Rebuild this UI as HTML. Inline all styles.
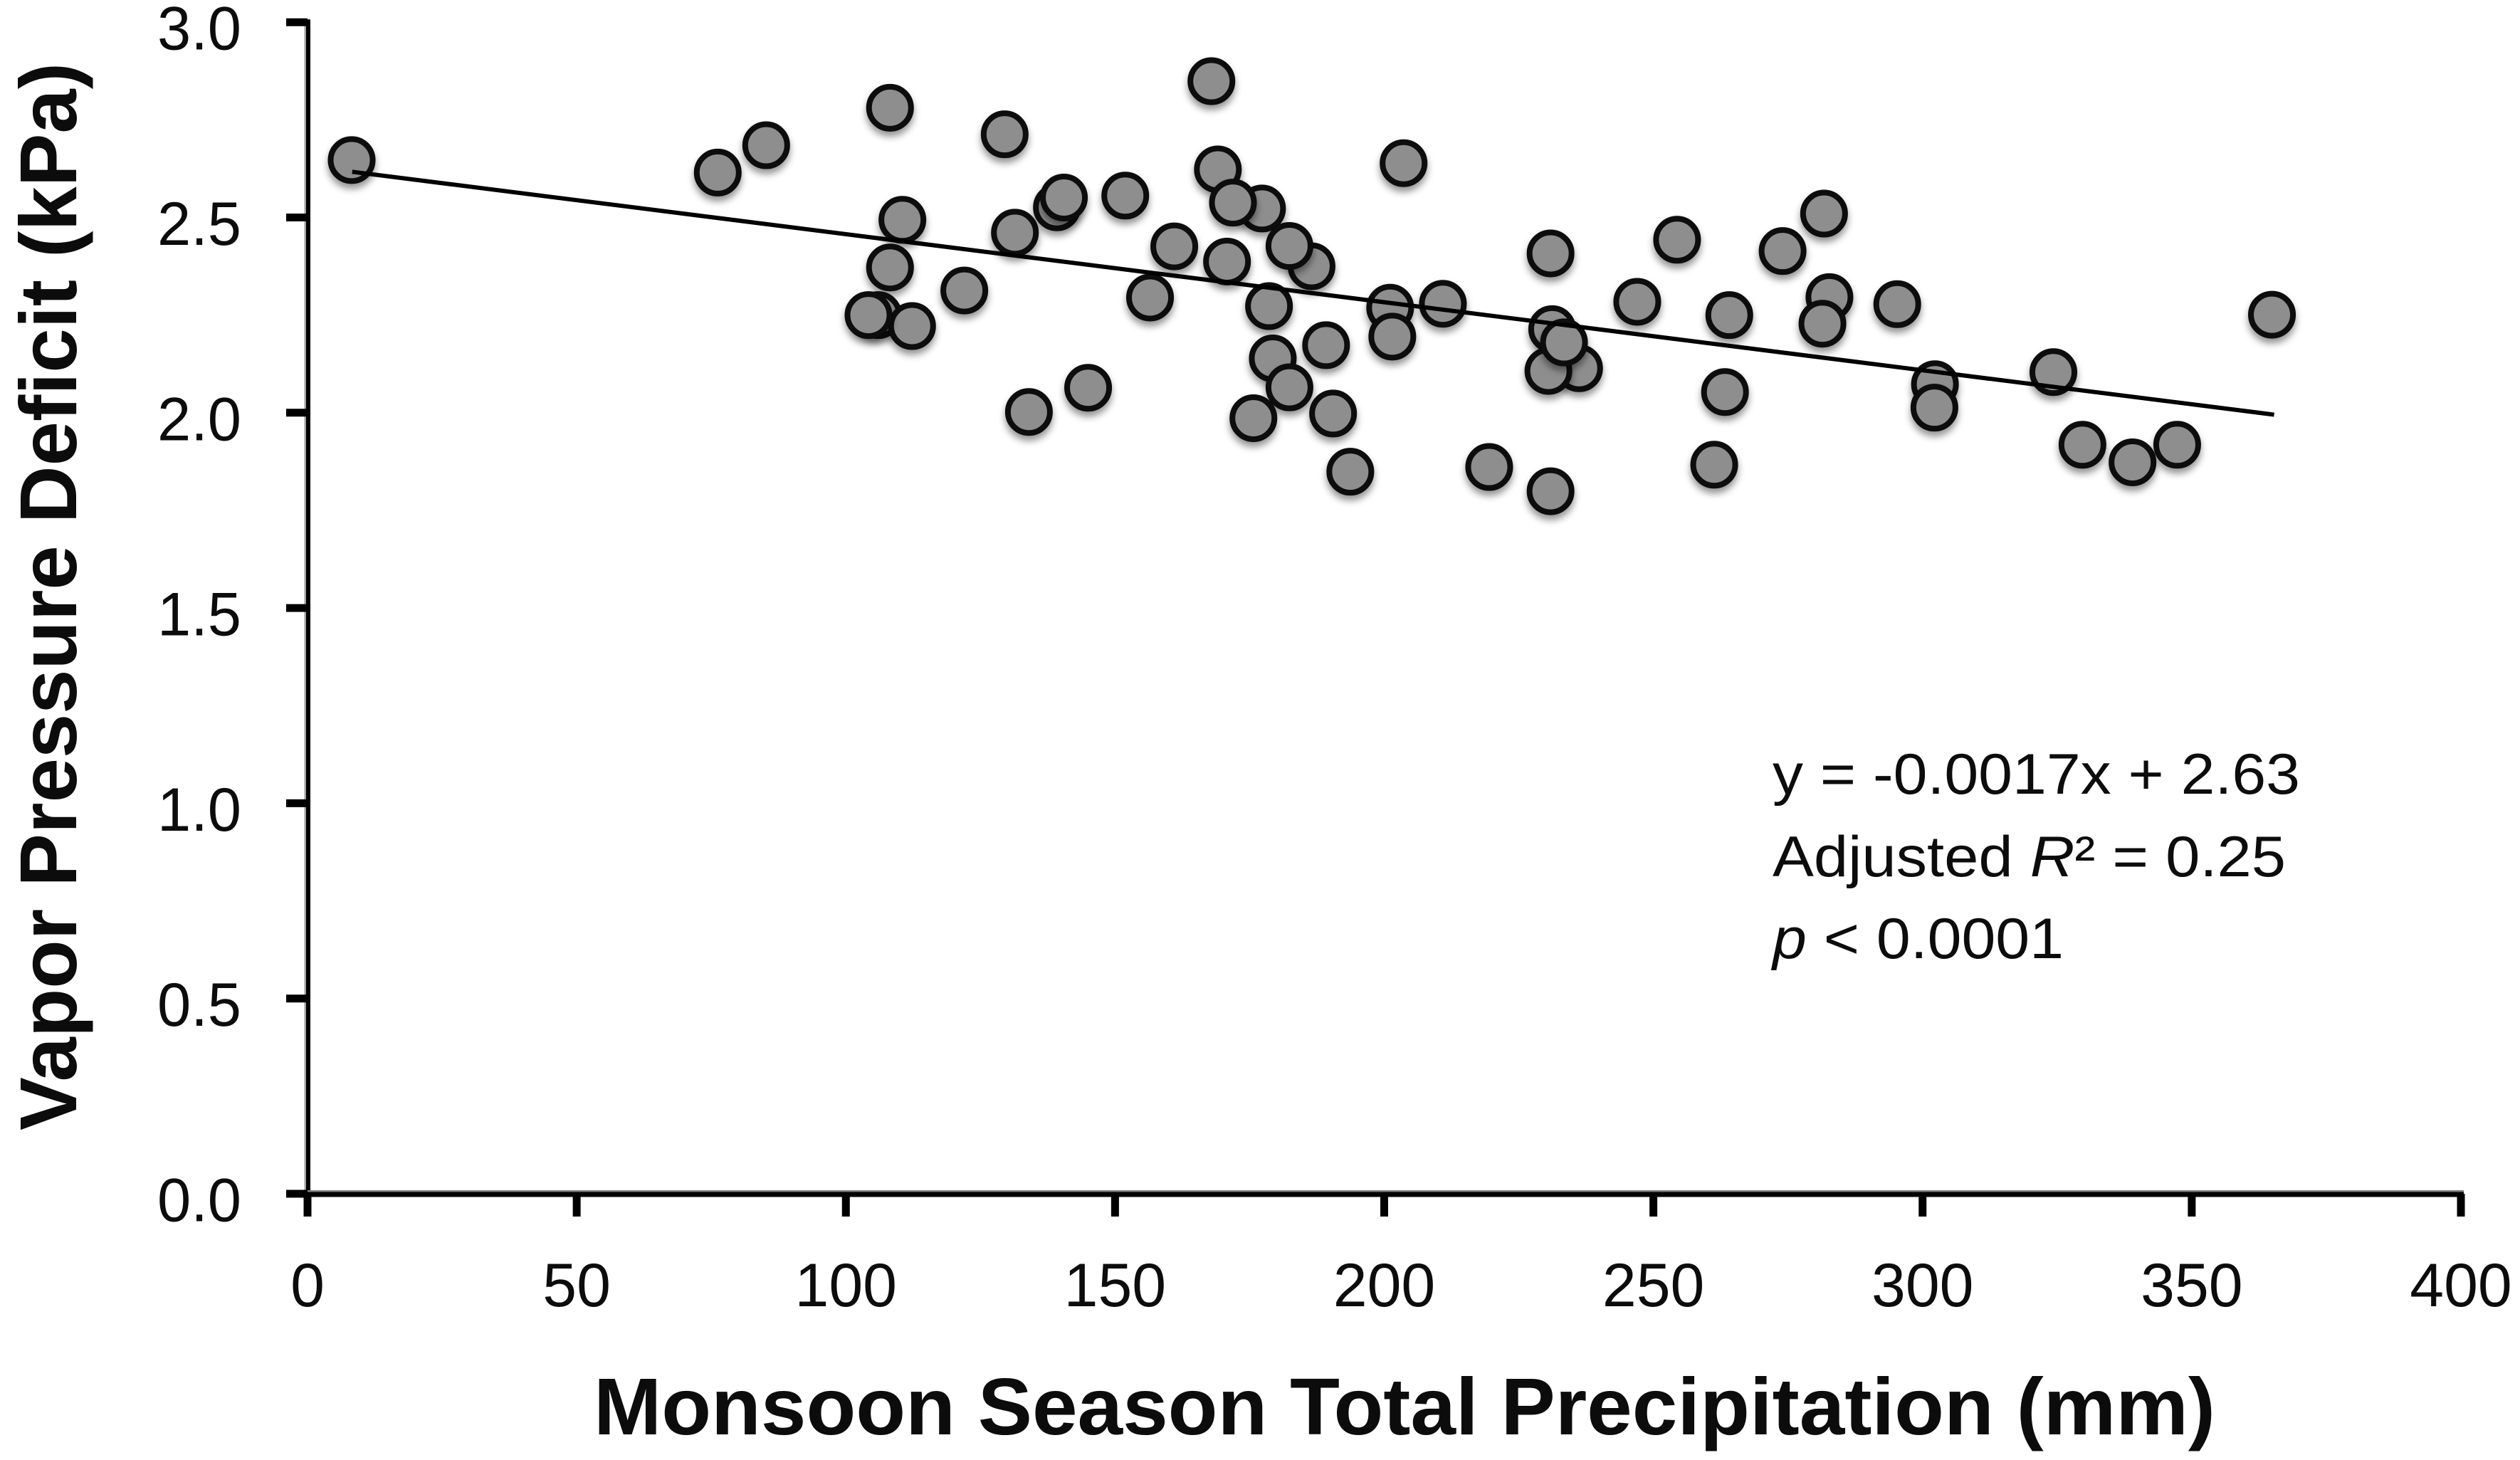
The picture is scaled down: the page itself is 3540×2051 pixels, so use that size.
<!DOCTYPE html>
<html lang="en">
<head>
<meta charset="utf-8">
<title>Vapor Pressure Deficit vs Monsoon Season Total Precipitation</title>
<style>
html,body{margin:0;padding:0;background:#fff;width:3540px;height:2051px;overflow:hidden}
svg{display:block}
text{font-family:"Liberation Sans",sans-serif;fill:#0c0c0c}
</style>
</head>
<body>
<svg id="chart" xmlns="http://www.w3.org/2000/svg" width="3540" height="2051" viewBox="0 0 3540 2051">
  <defs>
    <filter id="marker-shadow" x="-40%" y="-40%" width="180%" height="190%">
      <feDropShadow dx="0" dy="7" stdDeviation="5" flood-color="#000" flood-opacity="0.42"/>
    </filter>
  </defs>
  <rect width="3540" height="2051" fill="#fff"/>
  <g id="points"></g>
  <g id="axes"></g>
  <text transform="translate(107,1588) rotate(-90)" font-size="113" font-weight="700" textLength="1500" lengthAdjust="spacingAndGlyphs">Vapor Pressure Deficit (kPa)</text>
  <text x="834" y="2015" font-size="113" font-weight="700" textLength="2278" lengthAdjust="spacingAndGlyphs">Monsoon Season Total Precipitation (mm)</text>
  <g>
    <text x="2490" y="1115" font-size="81" textLength="741" lengthAdjust="spacingAndGlyphs">y = -0.0017x + 2.63</text>
    <text x="2490" y="1231" font-size="81" textLength="721" lengthAdjust="spacingAndGlyphs">Adjusted <tspan font-style="italic">R</tspan>² = 0.25</text>
    <text x="2490" y="1346" font-size="81" textLength="409" lengthAdjust="spacingAndGlyphs"><tspan font-style="italic">p</tspan> &lt; 0.0001</text>
  </g>
</svg>
<script>
const xTickLabels = ["0","50","100","150","200","250","300","350","400"];
const xTickValues = [0,50,100,150,200,250,300,350,400];
const yTickLabels = ["0.0","0.5","1.0","1.5","2.0","2.5","3.0"];
const yTickValues = [0,0.5,1,1.5,2,2.5,3];

const precipitation = [
  8.2,76.2,85.2,108.2,129.5,167.9,203.6,110.5,131.4,139.2,140.5,151.9,
  169.1,177.3,171.9,161,170.8,186.5,182.4,108.2,122,156.5,178.6,201.1,201.5,
  106,112.3,104.2,179.3,189.2,182.4,134,145,175.7,190.5,193.7,
  210.9,230.9,254.4,281.7,274,247,264.1,282.7,281.4,295.3,
  231.2,236.2,230.5,233.4,263.3,219.5,230.9,261.3,302.3,302.2,
  324.3,329.7,339,347.3,364.9
];
const vpd = [
  2.647,2.615,2.685,2.781,2.713,2.849,2.639,2.494,2.461,2.526,2.551,2.556,
  2.623,2.523,2.538,2.426,2.387,2.375,2.427,2.372,2.313,2.295,2.273,2.269,2.195,
  2.25,2.222,2.25,2.139,2.173,2.065,2.002,2.064,1.986,1.998,1.849,
  2.279,2.408,2.443,2.51,2.414,2.284,2.25,2.296,2.228,2.278,
  2.214,2.114,2.107,2.18,2.053,1.861,1.799,1.867,2.073,2.013,
  2.104,1.918,1.873,1.918,2.251
];
const trendX = [8.3,365.3];
const trendY = [2.617,1.995];

const SVG_NS = "http://www.w3.org/2000/svg";
const X0 = 432, X_PER_UNIT = 7.5625;
const Y0 = 1677, Y_PER_UNIT = 548.6;
function xScale(v){ return X0 + v * X_PER_UNIT; }
function yScale(v){ return Y0 - v * Y_PER_UNIT; }
function make(tag, attrs, parent){
  const el = document.createElementNS(SVG_NS, tag);
  for (const k in attrs) el.setAttribute(k, attrs[k]);
  parent.appendChild(el);
  return el;
}

const axes = document.getElementById("axes");
const points = document.getElementById("points");

precipitation.forEach(function(p, i){
  const c = make("circle", {cx:xScale(p), cy:yScale(vpd[i]), r:29.5, fill:"#8e8e8e", stroke:"#070707", "stroke-width":8, filter:"url(#marker-shadow)"}, points);
  
  
});

const trend = make("line", {x1:xScale(trendX[0]), y1:yScale(trendY[0]), x2:xScale(trendX[1]), y2:yScale(trendY[1]), stroke:"#000", "stroke-width":6}, points);



const yAxisFringe = make("line", {x1:X0-3, y1:yScale(3)-4, x2:X0-3, y2:Y0, stroke:"#a0a0a0", "stroke-width":3}, axes);



const yAxisLine = make("line", {x1:X0+1, y1:yScale(3)-4, x2:X0+1, y2:Y0+3, stroke:"#000", "stroke-width":6}, axes);



const xAxisFringe = make("line", {x1:X0-3, y1:Y0-3.5, x2:xScale(400)+4, y2:Y0-3.5, stroke:"#808080", "stroke-width":3}, axes);



const xAxisLine = make("line", {x1:X0-30, y1:Y0+1, x2:xScale(400)+4, y2:Y0+1, stroke:"#000", "stroke-width":7}, axes);



xTickValues.forEach(function(v, i){
  const tick = make("line", {x1:xScale(v), y1:Y0, x2:xScale(v), y2:Y0+32, stroke:"#000", "stroke-width":11}, axes);
  
  
  const label = make("text", {x:xScale(v), y:1835, "font-size":86, "text-anchor":"middle"}, axes);
  label.textContent = xTickLabels[i];
  
  
});

yTickValues.forEach(function(v, i){
  const tick = make("line", {x1:X0-30, y1:yScale(v), x2:X0, y2:yScale(v), stroke:"#000", "stroke-width":11}, axes);
  
  
  const label = make("text", {x:221, y:yScale(v)+38.5, "font-size":86, textLength:118, lengthAdjust:"spacingAndGlyphs"}, axes);
  label.textContent = yTickLabels[i];
  
  
});
</script>
</body>
</html>
